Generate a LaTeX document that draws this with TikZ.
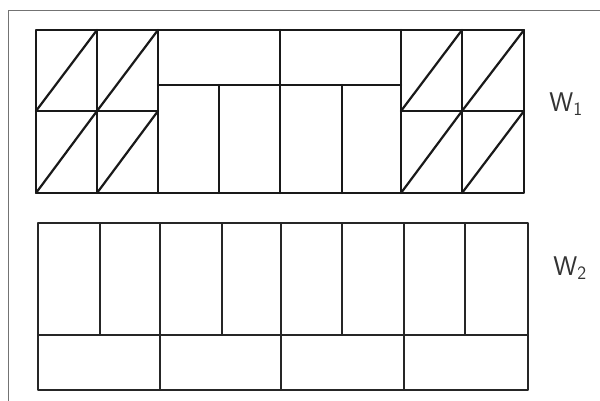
\documentclass[tikz,border=0pt]{standalone}
\usepackage{tikz}
\usetikzlibrary{positioning}

\begin{document}
\begin{tikzpicture}[x=1pt, y=-1pt, line join=round, line cap=round,
  rahmen/.style={draw=black!55, line width=0.8pt},
  strich/.style={draw=black!90, line width=2.2pt},
  duenn/.style={draw=black!85, line width=1.6pt},
  etikett/.style={font=\sffamily\fontsize{27}{30}\selectfont, text=black!80,
                  inner sep=0pt}]

\useasboundingbox (0,0) rectangle (600,400);
\clip (0,0) rectangle (600,400);
\fill[white] (0,0) rectangle (600,400);

% Rahmen
\draw[rahmen] (8,10) rectangle (620,420);

% obere Wand W1
\draw[strich] (36,30) rectangle (524,193);
\foreach \x in {97,158,280,401,462}
  \draw[strich] (\x,30) -- (\x,193);
\draw[strich] (36,111) -- (158,111);
\draw[strich] (401,111) -- (524,111);
\draw[strich] (158,85) -- (401,85);
\foreach \x in {219,342}
  \draw[strich] (\x,85) -- (\x,193);
% Diagonalen
\foreach \x/\w in {36/61,97/61,401/61,462/62}
  \foreach \ya/\yb in {111/30,193/111}
    \draw[strich] (\x,\ya) -- (\x+\w,\yb);

% untere Wand W2
\draw[duenn] (38,223) rectangle (528,390);
\draw[duenn] (38,335) -- (528,335);
\foreach \x in {160,281,404}
  \draw[duenn] (\x,223) -- (\x,390);
\foreach \x in {100,222,342,465}
  \draw[duenn] (\x,223) -- (\x,335);

% Beschriftung
\node[etikett] (w1) at (566,104) {W\textsubscript{1}};
\node[etikett] (w2) at (570,268) {W\textsubscript{2}};
\end{tikzpicture}
\end{document}
